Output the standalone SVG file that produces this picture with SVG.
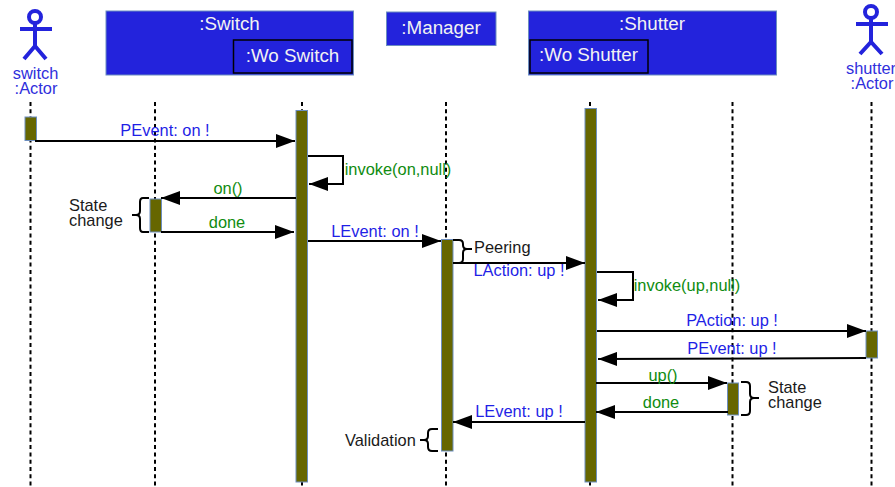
<svg xmlns="http://www.w3.org/2000/svg" width="895" height="487" viewBox="0 0 895 487">
<style>
text{font-family:"Liberation Sans",Arial,sans-serif;font-size:16.4px}
.obj{fill:#2323dc;stroke:#6c8ebf;stroke-width:1}
.sub{fill:#2323dc;stroke:#000;stroke-width:1.5}
.t{fill:#f2f2f2;font-size:18.8px;text-anchor:middle}
.act{fill:#666600;stroke:#6c8ebf;stroke-width:1}
.life{stroke:#000;stroke-width:2;stroke-dasharray:4 3.300;fill:none}
.msg{stroke:#000;stroke-width:2;fill:none;marker-end:url(#a)}
.br{stroke:#000;stroke-width:2;fill:none}
.blue{fill:#1f1fe6;text-anchor:middle}
.green{fill:#108c10;text-anchor:middle}
.blk{fill:#1a1a1a}
.fig{stroke:#2323dc;stroke-width:4;fill:none}
.actor{fill:#2f2fdc;text-anchor:middle}
</style>
<defs>
<marker id="a" markerUnits="userSpaceOnUse" markerWidth="20" markerHeight="14" refX="19" refY="7" orient="auto"><path d="M0 0L19 7L0 14Z" fill="#000"/></marker>
</defs>
<g id="lifelines">
<path class="life" d="M30.500 102V487"/><path class="life" d="M155 102V487"/><path class="life" d="M302 102V487"/><path class="life" d="M446 102V487"/><path class="life" d="M590 102V487"/><path class="life" d="M732.500 102V487"/><path class="life" d="M871.500 102V487"/>
</g>
<g id="switch-actor"><circle class="fig" cx="35" cy="17" r="6"/><path class="fig" d="M20 29H52M35 23V46M24 59L35 46L46 59"/><text class="actor" x="35.500" y="79">switch</text><text class="actor" x="36" y="94">:Actor</text></g>
<g id="shutter-actor"><circle class="fig" cx="871" cy="12" r="6"/><path class="fig" d="M856 24H888M871 18V42M860 54L871 42L882 54"/><text class="actor" x="871" y="74">shutter</text><text class="actor" x="872" y="89">:Actor</text></g>
<g id="switch"><rect class="obj" x="106" y="11" width="247.500" height="64"/><text class="t" x="229.500" y="30">:Switch</text></g>
<g id="wo-switch"><rect class="sub" x="233.500" y="40" width="118.500" height="33"/><text class="t" x="292.500" y="62">:Wo Switch</text></g>
<g id="manager"><rect class="obj" x="386.500" y="12" width="109.500" height="33.500"/><text class="t" x="441" y="34">:Manager</text></g>
<g id="shutter"><rect class="obj" x="528.500" y="11" width="248" height="64"/><text class="t" x="652" y="30">:Shutter</text></g>
<g id="wo-shutter"><rect class="sub" x="530" y="40" width="118" height="33"/><text class="t" x="588.500" y="61">:Wo Shutter</text></g>
<g id="activations">
<rect class="act" x="25" y="117" width="11.500" height="23.500"/>
<rect class="act" x="296" y="110.500" width="11.500" height="371.500"/>
<rect class="act" x="150" y="199" width="11.500" height="33"/>
<rect class="act" x="441.500" y="239.500" width="11.500" height="211.500"/>
<rect class="act" x="585" y="108.500" width="11.500" height="373.500"/>
<rect class="act" x="727.500" y="383" width="11" height="32"/>
<rect class="act" x="866" y="331" width="11.500" height="27"/>
</g>
<g id="connectors">
<path class="msg" d="M35 141H295"/>
<path class="msg" d="M308 156H343V184H309"/>
<path class="msg" d="M296 198H161"/>
<path class="msg" d="M161 232H294"/>
<path class="msg" d="M308 241H441"/>
<path class="msg" d="M453 263H585"/>
<path class="msg" d="M597 272H633V300H598"/>
<path class="msg" d="M597 331H866"/>
<path class="msg" d="M866 358L598 359"/>
<path class="msg" d="M596 383H727"/>
<path class="msg" d="M728 412H596"/>
<path class="msg" d="M585 422H453"/>
</g>
<g id="braces">
<path class="br" d="M149 198H143Q140 198 140 202V211Q140 215 136 215H132M136 215Q140 215 140 219V228Q140 232 143 232H149"/>
<path class="br" d="M453 240H459Q463 240 463 244V245Q463 249 467 249H472M467 249Q463 249 463 253V259Q463 263 459 263H453"/>
<path class="br" d="M741 382H746Q750 382 750 386V394Q750 398 754 398H759M754 398Q750 398 750 402V411Q750 415 746 415H741"/>
<path class="br" d="M438 429H432Q428 429 428 433V436Q428 440 424 440H420M424 440Q428 440 428 444V447Q428 451 432 451H438"/>
</g>
<g id="labels">
<text class="blue" x="165" y="136">PEvent: on !</text>
<text class="green" x="398" y="175">invoke(on,null)</text>
<text class="green" x="228" y="194">on()</text>
<text class="green" x="227" y="228">done</text>
<text class="blue" x="375" y="237">LEvent: on !</text>
<text class="blue" x="519" y="276">LAction: up !</text>
<text class="green" x="687" y="291">invoke(up,null)</text>
<text class="blue" x="732" y="326">PAction: up !</text>
<text class="blue" x="732" y="354">PEvent: up !</text>
<text class="green" x="663" y="381">up()</text>
<text class="green" x="661" y="408">done</text>
<text class="blue" x="519" y="417">LEvent: up !</text>
<text class="blk" x="69" y="211">State</text><text class="blk" x="69" y="226">change</text>
<text class="blk" x="474" y="253">Peering</text>
<text class="blk" x="768" y="393">State</text><text class="blk" x="768" y="408">change</text>
<text class="blk" x="345" y="446">Validation</text>
</g>
</svg>
